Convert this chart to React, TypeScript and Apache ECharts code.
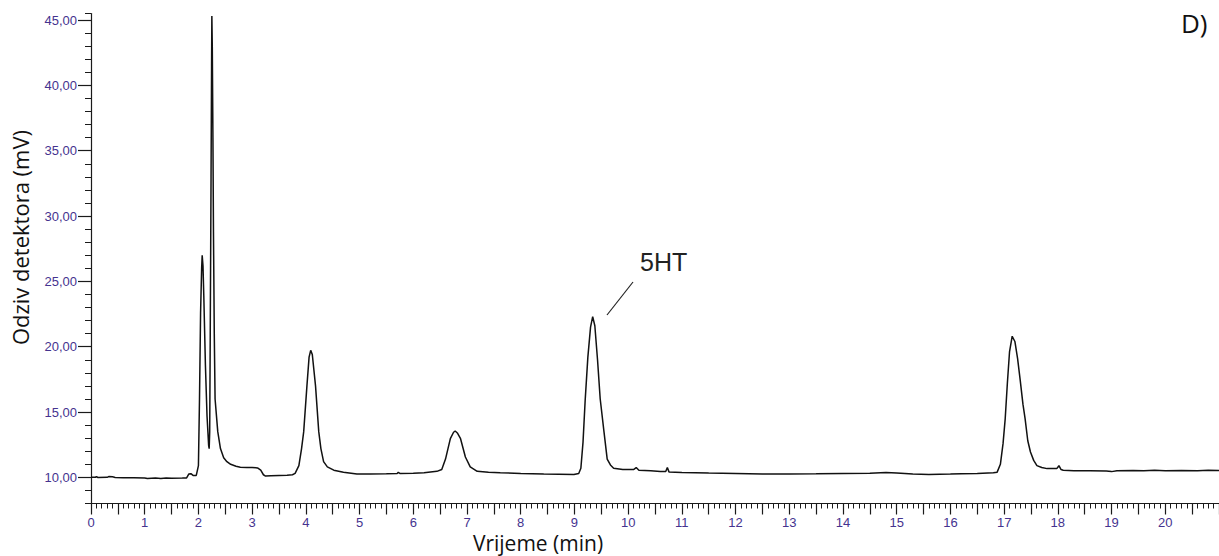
import React, { useEffect, useRef } from "react";
import * as echarts from "echarts";

// Retention time (min)
const timeMin: number[] = [
  0.0, 0.08, 0.1, 0.13, 0.3, 0.33, 0.4, 0.45, 0.6, 0.8, 1.0, 1.05, 1.2, 1.3, 1.4, 1.5, 1.7, 1.78,
  1.82, 1.86, 1.9, 1.96, 2.0, 2.02, 2.04, 2.06, 2.07, 2.085, 2.1, 2.13, 2.16, 2.19, 2.2, 2.21,
  2.22, 2.235, 2.245, 2.25, 2.258, 2.27, 2.28, 2.295, 2.31, 2.36, 2.41, 2.47, 2.53, 2.6, 2.7,
  2.78, 2.9, 3.0, 3.1, 3.16, 3.21, 3.25, 3.35, 3.5, 3.65, 3.75, 3.8, 3.87, 3.92, 3.96, 4.02,
  4.06, 4.09, 4.12, 4.18, 4.24, 4.28, 4.33, 4.4, 4.52, 4.7, 4.95, 5.2, 5.5, 5.7, 5.72, 5.75,
  6.0, 6.2, 6.44, 6.53, 6.6, 6.69, 6.75, 6.78, 6.82, 6.88, 6.97, 7.06, 7.19, 7.4, 7.62, 8.0,
  8.43, 8.99, 9.08, 9.12, 9.16, 9.2, 9.25, 9.3, 9.34, 9.38, 9.43, 9.48, 9.55, 9.61, 9.67, 9.73,
  9.9, 10.1, 10.15, 10.2, 10.42, 10.6, 10.7, 10.73, 10.76, 11.0, 11.5, 12.0, 12.5, 13.0, 13.5,
  14.0, 14.5, 14.8, 15.0, 15.3, 15.6, 16.0, 16.2, 16.5, 16.8, 16.87, 16.93, 16.98, 17.02,
  17.06, 17.1, 17.15, 17.2, 17.25, 17.3, 17.35, 17.39, 17.44, 17.49, 17.55, 17.61, 17.7, 17.8,
  17.98, 18.02, 18.06, 18.1, 18.3, 18.6, 18.9, 19.0, 19.1, 19.4, 19.6, 19.8, 20.0, 20.3, 20.6,
  20.8, 21.0,
];

// Detector response (mV)
const signalMv: number[] = [
  10.0, 10.0, 10.06, 9.99, 10.0, 10.06, 10.04, 9.99, 9.98, 9.97, 9.96, 9.92, 9.95, 9.92, 9.96, 9.94, 9.95, 9.96,
  10.25, 10.28, 10.15, 10.15, 10.9, 16.0, 22.6, 26.0, 27.0, 26.2, 23.9, 18.6, 14.7, 12.45, 12.2, 13.5,
  21.0, 33.0, 41.5, 45.3, 43.0, 36.0, 28.8, 21.0, 16.0, 13.5, 12.2, 11.5, 11.2, 11.0, 10.85,
  10.78, 10.75, 10.76, 10.72, 10.55, 10.2, 10.1, 10.12, 10.14, 10.16, 10.2, 10.3, 10.9, 12.2, 13.5, 17.0,
  19.2, 19.72, 19.4, 17.0, 13.5, 12.2, 11.2, 10.8, 10.55, 10.4, 10.25, 10.25, 10.27, 10.3, 10.38, 10.3,
  10.32, 10.35, 10.46, 10.6, 11.4, 12.96, 13.45, 13.55, 13.4, 12.96, 11.56, 10.8, 10.46, 10.4, 10.36, 10.3,
  10.26, 10.22, 10.3, 10.7, 12.7, 15.9, 19.2, 21.5, 22.3, 21.6, 19.0, 16.0, 13.5, 11.4, 10.95, 10.7,
  10.6, 10.6, 10.75, 10.55, 10.5, 10.45, 10.45, 10.75, 10.42, 10.38, 10.33, 10.3, 10.26, 10.25, 10.27,
  10.3, 10.32, 10.38, 10.33, 10.25, 10.22, 10.25, 10.28, 10.3, 10.35, 10.4, 11.0, 12.6, 14.5,
  17.2, 19.6, 20.8, 20.4, 19.1, 17.4, 15.6, 14.5, 12.8, 11.94, 11.3, 10.9, 10.75, 10.67,
  10.67, 10.9, 10.6, 10.55, 10.5, 10.5, 10.48, 10.44, 10.5, 10.52, 10.5, 10.55, 10.5, 10.52, 10.5,
  10.55, 10.53,
];

const xLabelValues: number[] = [0, 1, 2, 3, 4, 5, 6, 7, 8, 9, 10, 11, 12, 13, 14, 15, 16, 17, 18, 19, 20];
const yLabelValues: number[] = [10, 15, 20, 25, 30, 35, 40, 45];

const xTitle = "Vrijeme (min)";
const yTitle = "Odziv detektora (mV)";
const peakLabel = "5HT";
const panelLabel = "D)";

const LABEL_COLOR = "#45338f";
const AXIS_COLOR = "#1a1a1a";

export default function App() {
  const ref = useRef<HTMLDivElement>(null);

  useEffect(() => {
    if (!ref.current) return;
    const chart = echarts.init(ref.current, null, { renderer: "svg" });
    const data = timeMin.map((t, i) => [t, signalMv[i]]);

    const xBase = {
      type: "value" as const,
      min: 0,
      max: 21,
      position: "bottom" as const,
      gridIndex: 0,
      splitLine: { show: false },
    };
    const yBase = {
      type: "value" as const,
      min: 8,
      max: 45.5,
      interval: 1,
      position: "left" as const,
      gridIndex: 0,
      splitLine: { show: false },
    };

    chart.setOption({
      animation: false,
      backgroundColor: "#ffffff",
      grid: {
        left: 91,
        right: 0,
        top: 13.5,
        bottom: 52.5,
        containLabel: false,
        outerBoundsMode: "none",
      },
      xAxis: [
        {
          ...xBase,
          interval: 0.1,
          axisLine: { show: true, lineStyle: { color: AXIS_COLOR, width: 1.2 } },
          axisTick: { show: true, inside: false, length: 5, lineStyle: { color: AXIS_COLOR, width: 1 } },
          axisLabel: { show: false },
        },
        {
          ...xBase,
          interval: 0.5,
          axisLine: { show: false },
          axisTick: { show: true, inside: false, length: 11, lineStyle: { color: AXIS_COLOR, width: 1.2 } },
          axisLabel: {
            show: true,
            customValues: xLabelValues,
            margin: 12,
            color: LABEL_COLOR,
            fontFamily: "Liberation Sans",
            fontSize: 13,
            formatter: (v: number) => String(Math.round(v)),
          },
          name: xTitle,
          nameLocation: "middle",
          nameGap: 29,
          nameMoveOverlap: false,
          nameTextStyle: {
            fontFamily: "Open Sans",
            fontSize: 21,
            lineHeight: 21,
            color: "#111",
            padding: [0, 234, 0, 0],
          },
        },
      ],
      yAxis: [
        {
          ...yBase,
          axisLine: { show: true, lineStyle: { color: AXIS_COLOR, width: 1.2 } },
          axisTick: { show: true, inside: false, length: 6, lineStyle: { color: AXIS_COLOR, width: 1 } },
          axisLabel: { show: false },
        },
        {
          ...yBase,
          axisLine: { show: false },
          axisTick: {
            show: true,
            inside: false,
            length: 13,
            customValues: yLabelValues,
            lineStyle: { color: AXIS_COLOR, width: 1.2 },
          },
          axisLabel: {
            show: true,
            customValues: yLabelValues,
            margin: 14,
            color: LABEL_COLOR,
            fontFamily: "Liberation Sans",
            fontSize: 13,
            padding: [0, 0, 4, 0],
            formatter: (v: number) => v.toFixed(2).replace(".", ","),
          },
          name: yTitle,
          nameLocation: "middle",
          nameRotate: 90,
          nameGap: 60,
          nameTextStyle: {
            fontFamily: "Open Sans",
            fontSize: 22,
            color: "#111",
            padding: [0, 0, 0, 42],
          },
        },
      ],
      series: [
        {
          type: "line",
          xAxisIndex: 0,
          yAxisIndex: 0,
          data,
          showSymbol: false,
          symbol: "none",
          lineStyle: { color: "#111111", width: 1.5 },
          clip: false,
        },
      ],
      graphic: [
        {
          type: "line",
          shape: { x1: 607, y1: 315, x2: 633, y2: 282 },
          style: { stroke: "#222", lineWidth: 1.2 },
        },
        {
          type: "text",
          x: 640,
          y: 249,
          style: {
            text: peakLabel,
            fill: "#222",
            font: '25px "Liberation Sans"',
            textVerticalAlign: "top",
          },
        },
        {
          type: "text",
          x: 1181,
          y: 10,
          style: {
            text: panelLabel,
            fill: "#111",
            font: '26px "Open Sans"',
            textVerticalAlign: "top",
          },
        },
      ],
    });

    return () => chart.dispose();
  }, []);

  return (
    <div
      ref={ref}
      style={{ position: "fixed", left: 0, top: 0, width: 1219, height: 556, background: "#fff" }}
    />
  );
}
